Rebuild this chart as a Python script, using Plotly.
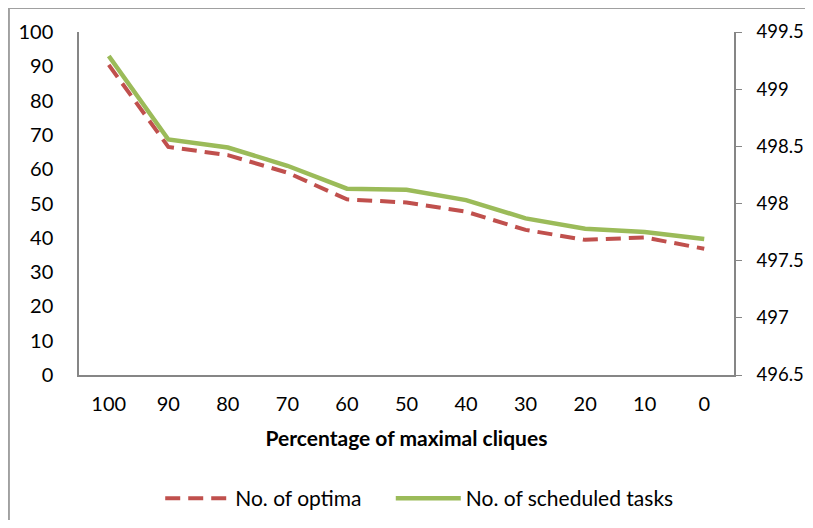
import plotly.graph_objects as go

RED = "#C0504D"
GREEN = "#9BBB59"
AXIS = "#868686"
FONT = "Lato, 'Open Sans', sans-serif"

categories = ["100", "90", "80", "70", "60", "50", "40", "30", "20", "10", "0"]
optima = [90.4, 66.5, 64.1, 59.0, 51.2, 50.3, 47.6, 42.3, 39.4, 40.1, 36.8]
scheduled = [499.29, 498.56, 498.49, 498.33, 498.13, 498.12, 498.03, 497.87, 497.78, 497.75, 497.69]

left_ticks = list(range(0, 101, 10))
right_ticks = [496.5, 497, 497.5, 498, 498.5, 499, 499.5]

fig = go.Figure()

fig.add_trace(go.Scatter(
    x=categories, y=optima, name="No. of optima", mode="lines",
    line=dict(color=RED, width=4, dash="15px,8px"), legend="legend",
))
fig.add_trace(go.Scatter(
    x=categories, y=scheduled, name="No. of scheduled tasks", mode="lines",
    line=dict(color=GREEN, width=4.5), yaxis="y2", legend="legend2",
))

leg = dict(orientation="h", xanchor="left", y=-0.36, yanchor="middle",
           font=dict(size=21), bgcolor="rgba(0,0,0,0)", itemwidth=65)

# page body adds an 8px margin; size the figure so it fits without scrollbars
fig.update_layout(
    width=797, height=512,
    paper_bgcolor="white", plot_bgcolor="white",
    font=dict(family=FONT, size=20, color="#000000"),
    margin=dict(l=71, r=71, t=24, b=145, autoexpand=False),
    showlegend=True,
    xaxis=dict(
        type="category", range=[-0.5, 10.5], automargin=False,
        showline=True, linecolor=AXIS, linewidth=1.5,
        showgrid=False, zeroline=False, ticks="",
        ticklabelstandoff=10,
        title=dict(text="<b>Percentage of maximal cliques</b>",
                   font=dict(size=21), standoff=18),
    ),
    yaxis=dict(
        range=[0, 100], tickvals=left_ticks, automargin=False,
        showline=True, linecolor=AXIS, linewidth=1.5,
        showgrid=False, zeroline=False, ticks="",
        ticklabelstandoff=20,
    ),
    yaxis2=dict(
        overlaying="y", side="right", automargin=False,
        range=[496.5, 499.5], tickvals=right_ticks,
        showline=True, linecolor=AXIS, linewidth=1.5,
        showgrid=False, zeroline=False,
        ticks="outside", ticklen=6, tickcolor=AXIS,
        ticklabelstandoff=11, tickfont=dict(size=18.5),
    ),
    legend=dict(leg, x=0.124),
    legend2=dict(leg, x=0.476),
    shapes=[dict(
        type="rect", xref="paper", yref="paper",
        x0=-0.107, x1=1.2, y0=-0.7, y1=1.07,
        line=dict(color="#A0A0A0", width=2),
    )],
)

fig.write_html("out.html")
